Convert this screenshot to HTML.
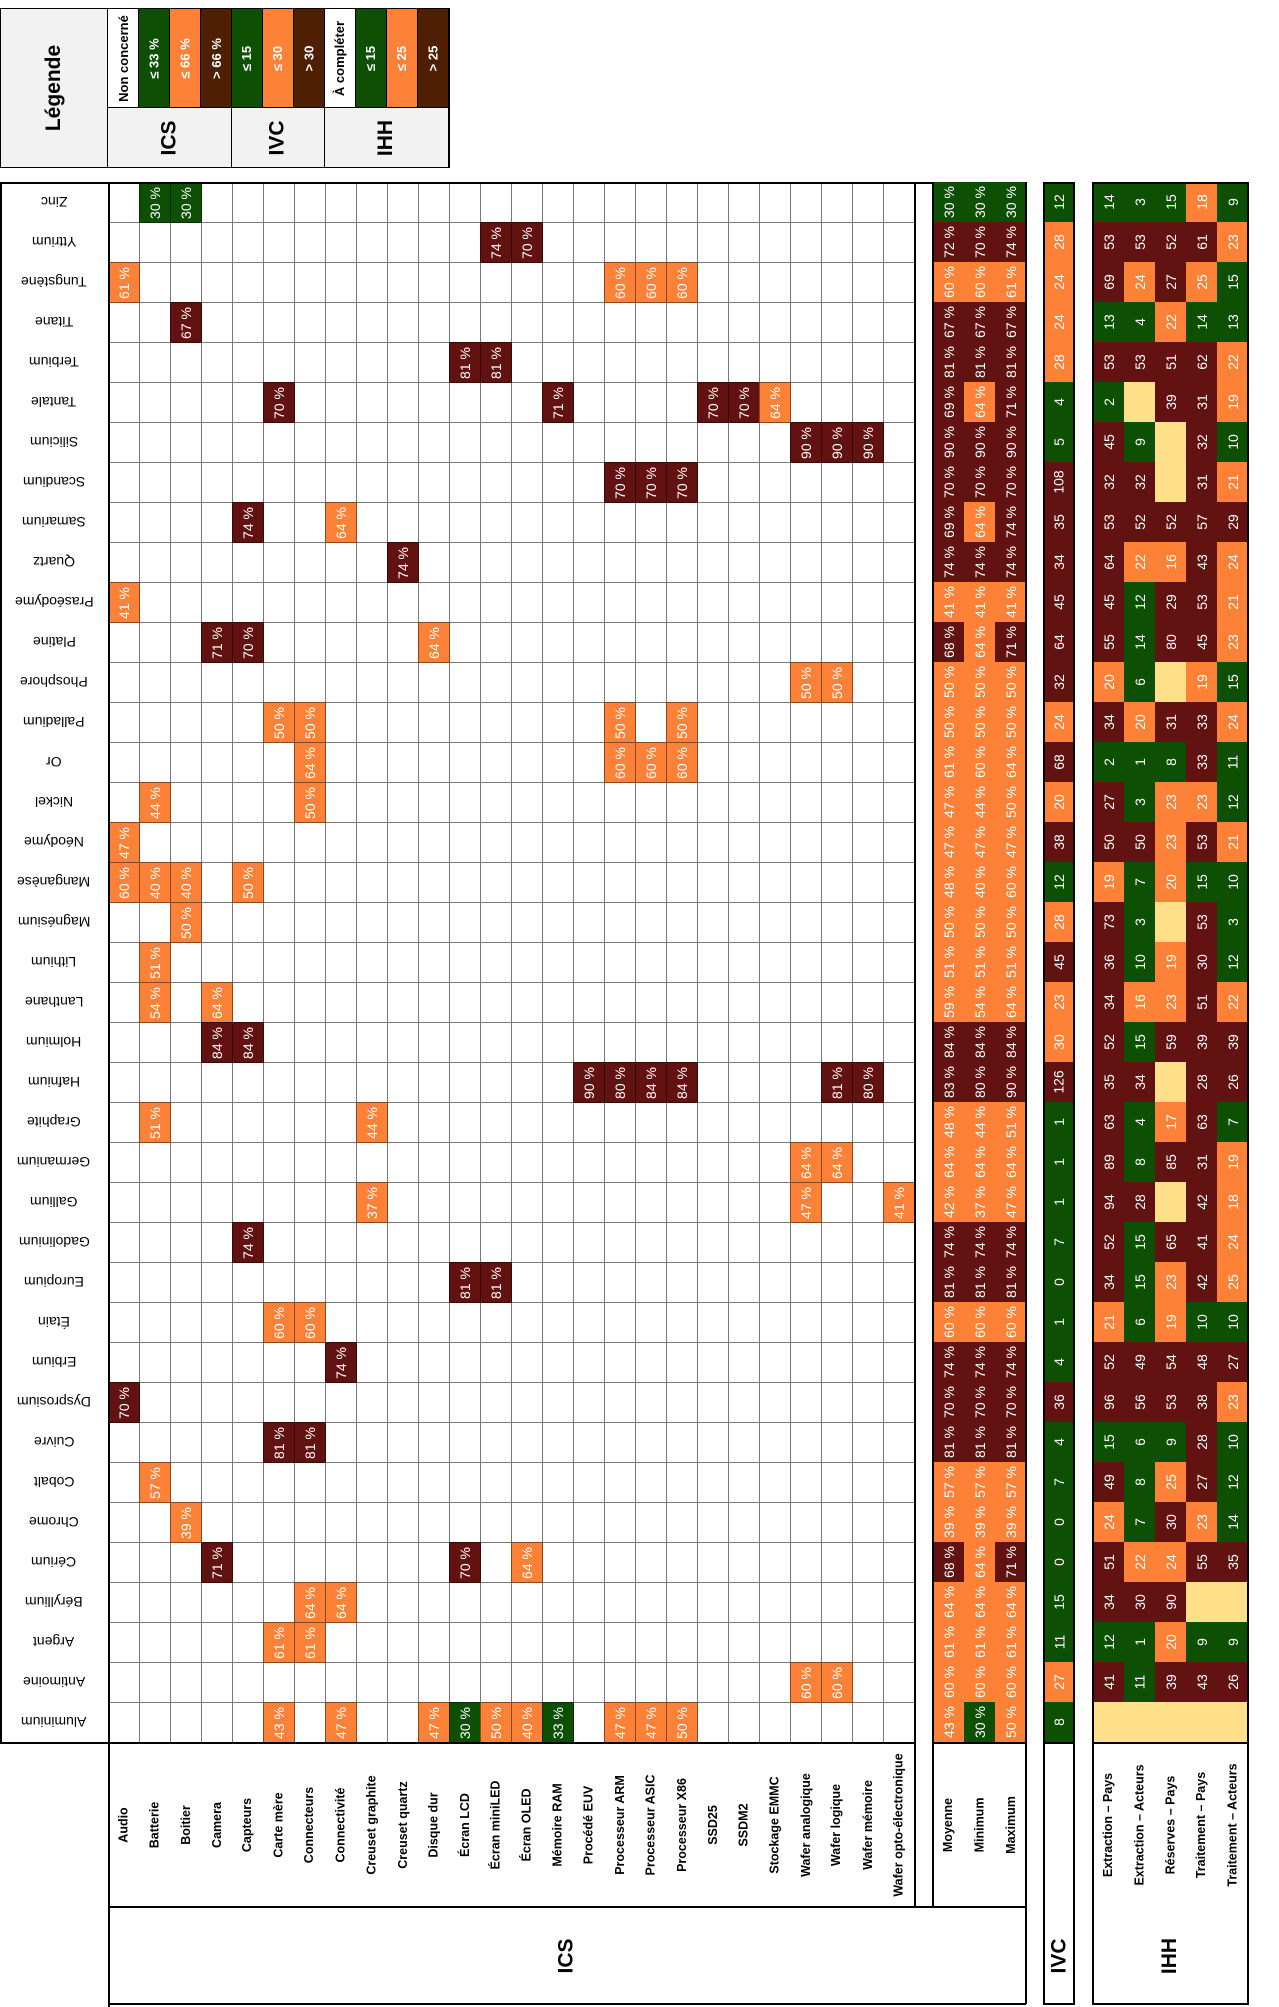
<!DOCTYPE html>
<html><head><meta charset="utf-8">
<style>
body{margin:0;width:1279px;height:2005px;background:#fff;position:relative;overflow:hidden;font-family:"Liberation Sans",sans-serif;}
.a{position:absolute;box-sizing:border-box;display:flex;align-items:center;justify-content:center;}
.r{transform:rotate(-90deg);white-space:nowrap;}
.f{transform:rotate(180deg);white-space:nowrap;}
.v{color:#fff;font-size:14px;}
.b{font-weight:bold;}
.ln{position:absolute;background:#777;}
.bk{position:absolute;background:#000;}
</style></head>
<body>
<div id="root"></div>
<script>
const elements=["Zinc","Yttrium","Tungstène","Titane","Terbium","Tantale","Silicium","Scandium","Samarium","Quartz","Praséodyme","Platine","Phosphore","Palladium","Or","Nickel","Néodyme","Manganèse","Magnésium","Lithium","Lanthane","Holmium","Hafnium","Graphite","Germanium","Gallium","Gadolinium","Europium","Étain","Erbium","Dysprosium","Cuivre","Cobalt","Chrome","Cérium","Béryllium","Argent","Antimoine","Aluminium"];
const icsColumns=["Audio","Batterie","Boitier","Camera","Capteurs","Carte mère","Connecteurs","Connectivité","Creuset graphite","Creuset quartz","Disque dur","Écran LCD","Écran miniLED","Écran OLED","Mémoire RAM","Procédé EUV","Processeur ARM","Processeur ASIC","Processeur X86","SSD25","SSDM2","Stockage EMMC","Wafer analogique","Wafer logique","Wafer mémoire","Wafer opto-électronique"];
const icsValues=[
[[1,30],[2,30]],
[[12,74],[13,70]],
[[0,61],[16,60],[17,60],[18,60]],
[[2,67]],
[[11,81],[12,81]],
[[5,70],[14,71],[19,70],[20,70],[21,64]],
[[22,90],[23,90],[24,90]],
[[16,70],[17,70],[18,70]],
[[4,74],[7,64]],
[[9,74]],
[[0,41]],
[[3,71],[4,70],[10,64]],
[[22,50],[23,50]],
[[5,50],[6,50],[16,50],[18,50]],
[[6,64],[16,60],[17,60],[18,60]],
[[1,44],[6,50]],
[[0,47]],
[[0,60],[1,40],[2,40],[4,50]],
[[2,50]],
[[1,51]],
[[1,54],[3,64]],
[[3,84],[4,84]],
[[15,90],[16,80],[17,84],[18,84],[23,81],[24,80]],
[[1,51],[8,44]],
[[22,64],[23,64]],
[[8,37],[22,47],[25,41]],
[[4,74]],
[[11,81],[12,81]],
[[5,60],[6,60]],
[[7,74]],
[[0,70]],
[[5,81],[6,81]],
[[1,57]],
[[2,39]],
[[3,71],[11,70],[13,64]],
[[6,64],[7,64]],
[[5,61],[6,61]],
[[22,60],[23,60]],
[[5,43],[7,47],[10,47],[11,30],[12,50],[13,40],[14,33],[16,47],[17,47],[18,50]]
];
const statLabels=["Moyenne","Minimum","Maximum"];
const ivcMean=[30,72,60,67,81,69,90,70,69,74,41,68,50,50,61,47,47,48,50,51,59,84,83,48,64,42,74,81,60,74,70,81,57,39,68,64,61,60,43];
const ivcMin=[30,70,60,67,81,64,90,70,64,74,41,64,50,50,60,44,47,40,50,51,54,84,80,44,64,37,74,81,60,74,70,81,57,39,64,64,61,60,30];
const ivcMax=[30,74,61,67,81,71,90,70,74,74,41,71,50,50,64,50,47,60,50,51,64,84,90,51,64,47,74,81,60,74,70,81,57,39,71,64,61,60,50];
const ivcScore=[12,28,24,24,28,4,5,108,35,34,45,64,32,24,68,20,38,12,28,45,23,30,126,1,1,1,7,0,1,4,36,4,7,0,0,15,11,27,8];
const ihhLabels=["Extraction – Pays","Extraction – Acteurs","Réserves – Pays","Traitement – Pays","Traitement – Acteurs"];
const ihhExtPays=[14,53,69,13,53,2,45,32,53,64,45,55,20,34,2,27,50,19,73,36,34,52,35,63,89,94,52,34,21,52,96,15,49,24,51,34,12,41,null];
const ihhExtAct=[3,53,24,4,53,null,9,32,52,22,12,14,6,20,1,3,50,7,3,10,16,15,34,4,8,28,15,15,6,49,56,6,8,7,22,30,1,11,null];
const ihhResPays=[15,52,27,22,51,39,null,null,52,16,29,80,null,31,8,23,23,20,null,19,23,59,null,17,85,null,65,23,19,54,53,9,25,30,24,90,20,39,null];
const ihhTrPays=[18,61,25,14,62,31,32,31,57,43,53,45,19,33,33,23,53,15,53,30,51,39,28,63,31,42,41,42,10,48,38,28,27,23,55,null,9,43,null];
const ihhTrAct=[9,23,15,13,22,19,10,21,29,24,21,23,15,24,11,12,21,10,3,12,22,39,26,7,19,18,24,25,10,27,23,10,12,14,35,null,9,26,null];
const ihhSeries=[ihhExtPays,ihhExtAct,ihhResPays,ihhTrPays,ihhTrAct];

const G="#0d5004",O="#fd8136",M="#631212",BR="#4e1f02",Y="#ffe08a",GR="#f2f2f2";
const TOP=182,RH=40,LW=108,CW=31,ICSX=108,STX=933,IVCX=1044,IHHX=1093;
const rowY=i=>TOP+i*RH, icsX=j=>ICSX+j*CW, stX=j=>STX+j*CW, ihhX=j=>IHHX+j*CW;
const icsColor=v=>v<=33?G:(v<=66?O:M);
const ivcColor=v=>v<=15?G:(v<=30?O:M);
const ihhColor=v=>v==null?Y:(v<=15?G:(v<=25?O:M));
const root=document.getElementById('root');
function box(x,y,w,h,css,html,cls){const d=document.createElement('div');d.className='a';d.style.cssText=`left:${x}px;top:${y}px;width:${w}px;height:${h}px;`+(css||'');if(html!=null){const s=document.createElement('span');s.className=cls||'r';s.textContent=html;d.appendChild(s);}root.appendChild(d);return d;}
function line(x,y,w,h,c){const d=document.createElement('div');d.className=c||'ln';d.style.cssText=`left:${x}px;top:${y}px;width:${w}px;height:${h}px;`;root.appendChild(d);return d;}

// Legend
let d=box(0,8,450,160,'border:2px solid #000;');


d=box(1,9,107,158,'background:'+GR+';border-right:1.5px solid #000;font-size:21px;','Légende','r b');


const legItems=[["Non concerné","#fff","#000"],["≤ 33 %",G,"#fff"],["≤ 66 %",O,"#fff"],["> 66 %",BR,"#fff"],["≤ 15",G,"#fff"],["≤ 30",O,"#fff"],["> 30",BR,"#fff"],["À compléter","#fff","#000"],["≤ 15",G,"#fff"],["≤ 25",O,"#fff"],["> 25",BR,"#fff"]];
legItems.forEach((it,i)=>{const e=box(108+i*31,9,31,99,`background:${it[1]};color:${it[2]};border-right:1px solid #000;border-bottom:1px solid #000;font-size:13px;`,it[0],'r b');

});
[["ICS",108,124],["IVC",232,93],["IHH",325,124]].forEach(g=>{const e=box(g[1],108,g[2],59,`background:${GR};border-right:1px solid #000;font-size:21px;`,g[0],'r b');

});

// element labels
elements.forEach((n,i)=>{const e=box(0,rowY(i),LW,RH,'font-size:14px;',n,'f');

});
// ICS grid lines
for(let j=1;j<26;j++) line(icsX(j),TOP,1,RH*39);
for(let i=1;i<39;i++) line(ICSX,rowY(i),26*CW,1);
// ICS cells
icsValues.forEach((row,i)=>row.forEach(c=>{const e=box(icsX(c[0]),rowY(i),CW+1,RH+1,`background:${icsColor(c[1])};border:1px solid rgba(0,0,0,.45);`,c[1]+' %','r v');

}));
// borders main
line(0,TOP,1026,1.5,'bk');
line(0,TOP,1.5,RH*39,'bk');line(LW,TOP,1.5,RH*39+265,'bk');
line(0,rowY(39),915,1.5,'bk');line(914,TOP,1.5,RH*39+165,'bk');
// column labels
icsColumns.forEach((n,j)=>{const e=box(icsX(j),1742,CW,165,'font-size:12.5px;',n,'r b');

});
line(LW,1906,918,1.5,'bk');line(LW,2003,918,1.5,'bk');
d=box(LW,1907,918,97,'font-size:21px;','ICS','r b');


// stats
[ivcMean,ivcMin,ivcMax].forEach((arr,j)=>arr.forEach((v,i)=>{const e=box(stX(j),rowY(i),CW,RH,`background:${icsColor(v)};`,v+' %','r v');

}));
statLabels.forEach((n,j)=>{const e=box(stX(j),1742,CW,165,'font-size:12.5px;',n,'r b');

});
line(932,TOP,1.5,1725,'bk');line(1025,TOP,1.5,1822,'bk');line(932,1742,94,1.5,'bk');
// IVC column
ivcScore.forEach((v,i)=>{const e=box(IVCX,rowY(i),30,RH,`background:${ivcColor(v)};`,String(v),'r v');

});
line(1043,TOP,1.5,1822,'bk');line(1073,TOP,1.5,1822,'bk');line(1043,TOP,32,1.5,'bk');line(1043,1742,32,1.5,'bk');line(1043,2003,32,1.5,'bk');
d=box(IVCX,1907,30,97,'font-size:21px;','IVC','r b');


// IHH
ihhSeries.forEach((arr,j)=>arr.forEach((v,i)=>{const e=box(ihhX(j),rowY(i),CW,RH,`background:${ihhColor(v)};`,v==null?'':String(v),'r v');

}));
ihhLabels.forEach((n,j)=>{const e=box(ihhX(j),1742,CW,165,'font-size:12.5px;',n,'r b');

});
line(1092,TOP,1.5,1822,'bk');line(1247,TOP,1.5,1822,'bk');line(1092,TOP,157,1.5,'bk');line(1092,1742,157,1.5,'bk');line(1092,2003,157,1.5,'bk');
d=box(IHHX,1907,155,97,'font-size:21px;','IHH','r b');


</script>
</body></html>
